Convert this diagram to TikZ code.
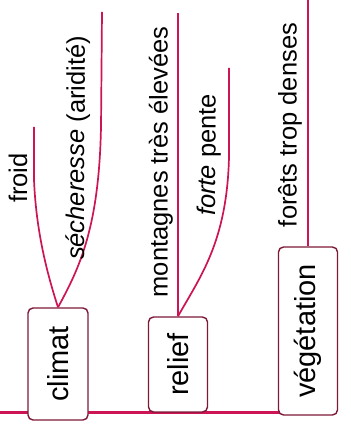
\documentclass[tikz,border=0pt]{standalone}
\usepackage{fontspec}
\setmainfont{Liberation Sans}
\definecolor{lc}{RGB}{205,20,85}
\definecolor{bc}{RGB}{125,25,55}
\begin{document}
\begin{tikzpicture}[x=1pt,y=1pt,
  cat/.style={draw=bc, line width=1.4pt, fill=white, rounded corners=5pt, rotate=90, inner sep=0pt, font=\fontsize{29}{30}\selectfont},
  lbl/.style={rotate=90, inner sep=0pt, font=\fontsize{25.5}{26}\selectfont},
  br/.style={draw=lc, line width=1.7pt}]
\useasboundingbox (0,0) rectangle (350,427);
\fill[white] (0,0) rectangle (350,427);
\coordinate (s0) at (0,14);
\coordinate (s1) at (309,14);
\draw[lc, line width=3pt] (s0) -- (s1);
\node[cat, minimum width=112pt, minimum height=60pt] (climat) at (58,63) {climat};
\node[cat, minimum width=95pt, minimum height=59pt] (relief) at (178,62.5) {relief};
\node[cat, minimum width=168pt, minimum height=59pt] (veg) at (308,96) {végétation};
\coordinate (c1) at (34,300);
\coordinate (c2) at (102,415);
\coordinate (r1) at (178,414);
\coordinate (r2) at (229,359);
\coordinate (v1) at (308,427);
\draw[br] (climat.east) .. controls (45,160) and (36,200) .. (34,247) -- (c1);
\draw[br] (climat.east) .. controls (80,160) and (99,200) .. (101,300) -- (c2);
\draw[br] (relief.east) -- (r1);
\draw[br] (relief.east) .. controls (200,150) and (227,185) .. (229,270) -- (r2);
\draw[br] (veg.east) -- (v1);
\node[lbl] (froid) at (18,249) {froid};
\node[lbl] (sech) at (78,279) {\textit{sécheresse} (aridité)};
\node[lbl] (mont) at (161,265) {montagnes très élevées};
\node[lbl] (forte) at (209,272) {\textit{forte} pente};
\node[lbl] (foret) at (290,302) {forêts trop denses};
\end{tikzpicture}
\end{document}
